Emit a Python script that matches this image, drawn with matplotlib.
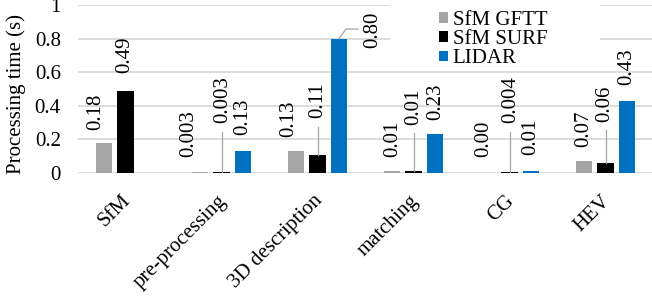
import numpy as np
import matplotlib
matplotlib.use("Agg")
import matplotlib.pyplot as plt
from matplotlib.patches import Rectangle
from matplotlib.transforms import ScaledTranslation

plt.rcParams['font.family'] = ['Liberation Serif', 'DejaVu Serif']
plt.rcParams['font.size'] = 15

# ---------------- data ----------------
categories = ["SfM", "pre-processing", "3D description", "matching", "CG", "HEV"]
series_names = ["SfM GFTT", "SfM SURF", "LIDAR"]
gftt = [0.18, 0.003, 0.13, 0.01, 0.001, 0.07]
surf = [0.49, 0.003, 0.11, 0.01, 0.004, 0.06]
lidar = [np.nan, 0.13, 0.80, 0.23, 0.01, 0.43]
gftt_labels = ["0.18", "0.003", "0.13", "0.01", "0.00", "0.07"]
surf_labels = ["0.49", "0.003", "0.11", "0.01", "0.004", "0.06"]
lidar_labels = [None, "0.13", "0.80", "0.23", "0.01", "0.43"]
yticks = [0, 0.2, 0.4, 0.6, 0.8, 1.0]
ytick_labels = ["0", "0.2", "0.4", "0.6", "0.8", "1"]

# ---------------- label layout (data-label placement, as in the original) ----------------
gftt_lab_y = [0.256, 0.097, 0.216, 0.097, 0.097, 0.157]
surf_lab_y = [0.595, 0.296, 0.326, 0.286, 0.296, 0.305]
lidar_lab_y = [None, 0.226, 0.742, 0.315, 0.107, 0.524]
gftt_lab_dx = [-8.7, -11.7, -7, 0.5, -4, 0]      # pixels
surf_lab_dx = [-0.5, 1, 0, 0.5, 1, -0.5]
lidar_lab_dx = [0, -0.5, 34, 0.5, -0.5, -0.5]
surf_leader = [False, True, True, True, True, True]
lidar_elbow = [False, False, True, False, False, False]

colors = ["#A5A5A5", "#000000", "#0070C0"]
grid_color = "#D9D9D9"
leader_color = "#A6A6A6"

W, H = 652, 296
fig = plt.figure(figsize=(W / 100, H / 100), dpi=100)
ax_left, ax_bottom_px, ax_top_px = 77.5, 173, 5
cat_px = 96.0
ax = fig.add_axes([ax_left / W, (H - ax_bottom_px) / H, 6 * cat_px / W, (ax_bottom_px - ax_top_px) / H])
y_px = ax_bottom_px - ax_top_px

x = np.arange(len(categories))
offset = 21.5 / cat_px
width = 16.5 / cat_px

all_vals = [gftt, surf, lidar]
all_labels = [gftt_labels, surf_labels, lidar_labels]
all_lab_y = [gftt_lab_y, surf_lab_y, lidar_lab_y]
all_lab_dx = [gftt_lab_dx, surf_lab_dx, lidar_lab_dx]

for k, (vals, col, name) in enumerate(zip(all_vals, colors, series_names)):
    xs = x + (k - 1) * offset
    ax.bar(xs, vals, width=width, color=col, label=name, zorder=3)
    for i in range(len(categories)):
        lab = all_labels[k][i]
        if lab is None:
            continue
        ly = all_lab_y[k][i]
        dx = all_lab_dx[k][i]
        ax.annotate(lab, xy=(xs[i], ly), xytext=(dx * 0.72, 0), textcoords="offset points",
                    rotation=90, ha="center", va="bottom", fontsize=15, zorder=5)
        if k == 1 and surf_leader[i]:
            ax.plot([xs[i], xs[i]], [vals[i], ly - 8.5 / y_px], color=leader_color, lw=0.9, zorder=4)
        if k == 2 and lidar_elbow[i]:
            v = vals[i]
            x1 = xs[i] + 7 / cat_px
            y1 = v + 9.5 / y_px
            x2 = xs[i] + (dx - 15) / cat_px
            ax.plot([xs[i], x1, x2], [v, y1, y1], color=leader_color, lw=0.9, zorder=4)

ax.set_xlim(-0.5, len(categories) - 0.5)
ax.set_ylim(0, 1)
ax.set_yticks(yticks)
ax.set_yticklabels(ytick_labels)
ax.yaxis.grid(True, color=grid_color, lw=1.3, zorder=0)
ax.set_axisbelow(True)
for s in ax.spines.values():
    s.set_visible(False)
ax.tick_params(axis="y", length=0, pad=12)
ax.tick_params(axis="x", length=0, pad=18)
ax.set_xticks(x)
ax.set_xticklabels(categories, rotation=45, ha="right", va="center", rotation_mode="anchor")
shift = ScaledTranslation(2 / 100, 0, fig.dpi_scale_trans)
for t in ax.get_xticklabels():
    t.set_transform(t.get_transform() + shift)

ax.set_ylabel("Processing time (s)", fontsize=15)
ax.yaxis.set_label_coords((26 - ax_left) / (6 * cat_px), (ax_bottom_px - 94) / y_px)

# white legend background covering gridlines
bg = Rectangle((390 / W, (H - 70) / H), 210 / W, 70 / H, transform=fig.transFigure,
               facecolor="white", edgecolor="none", zorder=2)
fig.patches.append(bg)
ax.set_zorder(1)
ax.patch.set_visible(False)

leg = fig.legend(loc="upper left", bbox_to_anchor=(424 / W, 1 + 4 / H), frameon=False,
                 handlelength=0.43, handleheight=0.43, handletextpad=0.25,
                 labelspacing=0.02, borderpad=0.2, fontsize=15)
leg.set_zorder(10)

fig.savefig("out.png", dpi=100)
